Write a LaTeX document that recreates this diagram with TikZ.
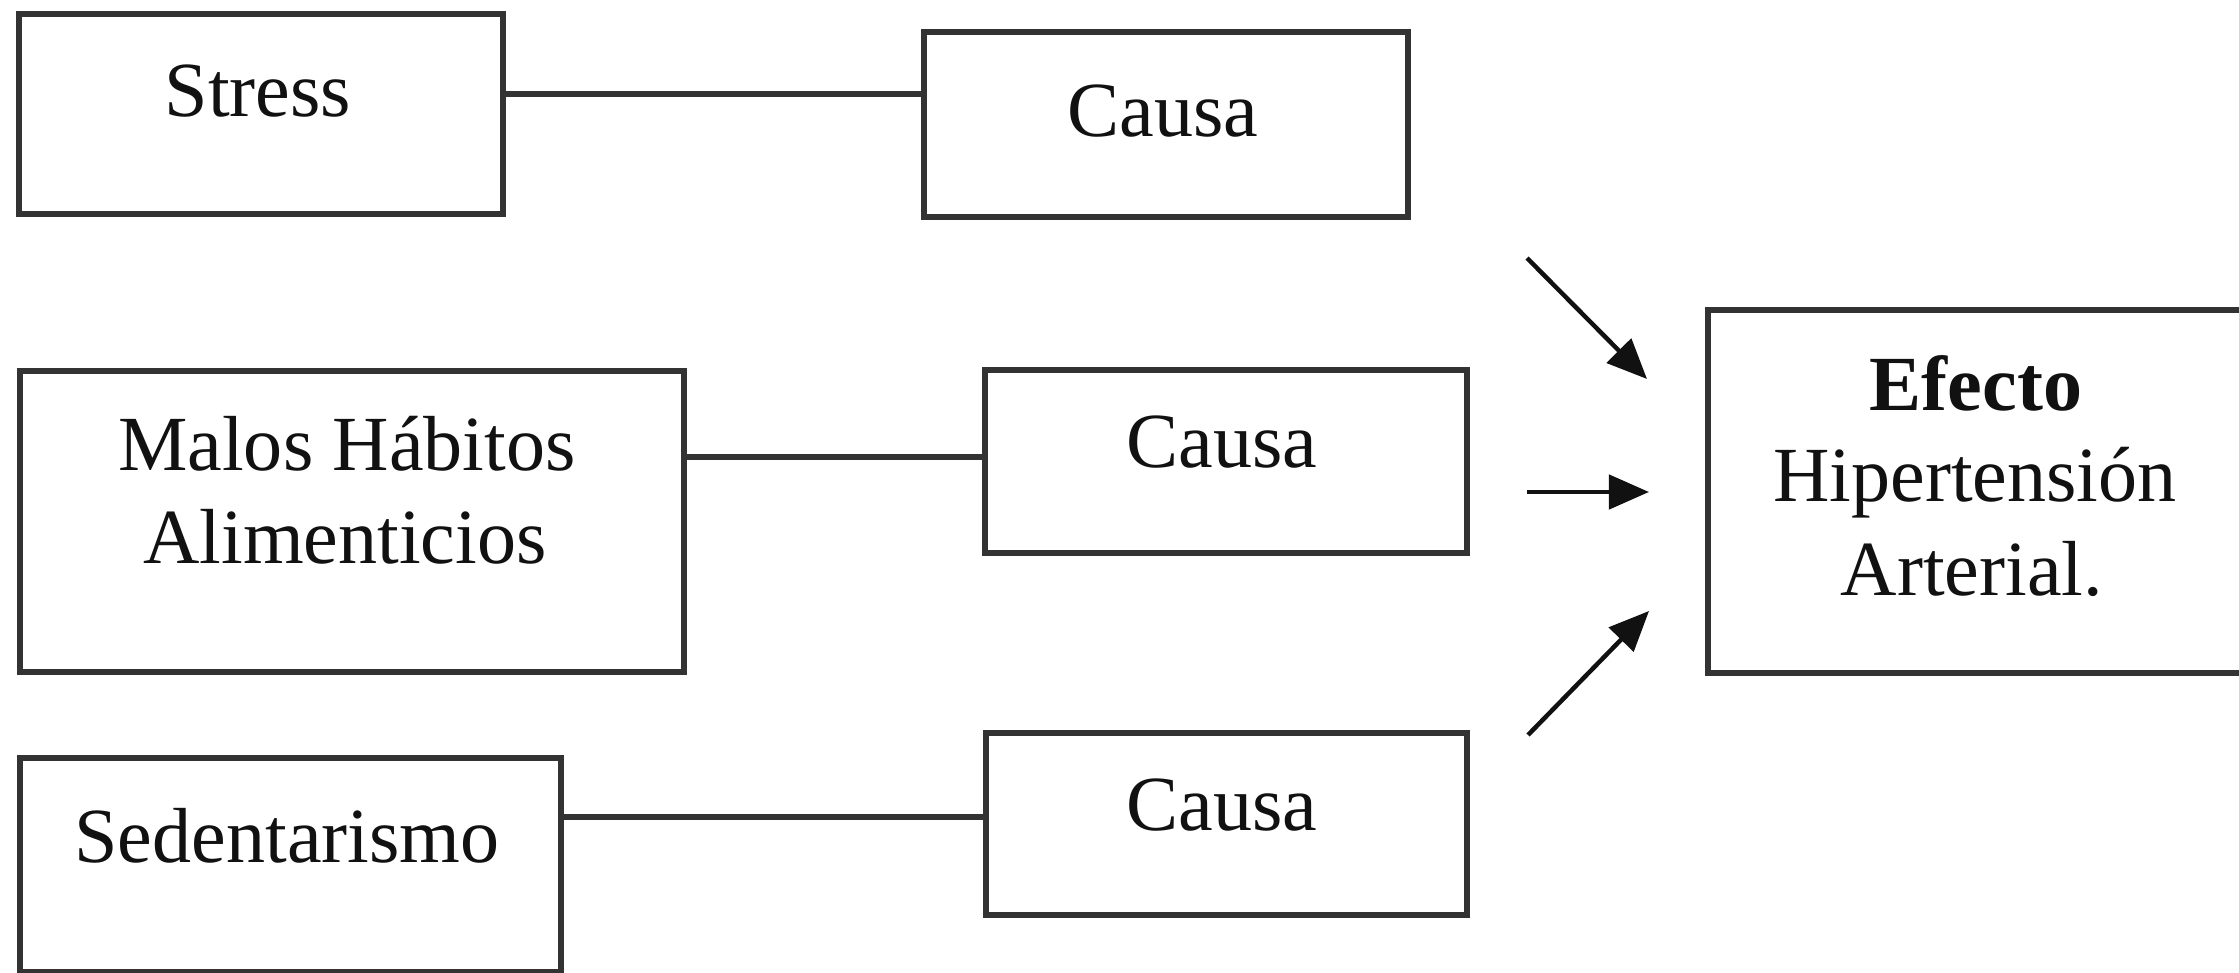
\documentclass[tikz,border=0pt]{standalone}
\usepackage{fontspec}
\setmainfont{Liberation Serif}
\usetikzlibrary{arrows.meta}
\definecolor{boxline}{HTML}{333333}
\definecolor{ink}{HTML}{111111}
\tikzset{
  box/.style={draw=boxline, line width=0.065cm, rectangle, inner sep=0pt, fill=none},
  txt/.style={anchor=base, inner sep=0pt, text=ink, font=\fontsize{22.2pt}{26.6pt}\selectfont},
  link/.style={draw=boxline, line width=0.06cm},
  arr/.style={draw=ink, line width=0.045cm, -{Triangle[length=0.40cm,width=0.34cm]}}
}
\begin{document}
\begin{tikzpicture}[x=0.01cm,y=-0.01cm]
\useasboundingbox (0,0) rectangle (2239,973);
\fill[white] (0,0) rectangle (2239,973);
\clip (0,0) rectangle (2239,973);
% boxes
\node[box, minimum width=4.84cm, minimum height=2.00cm] (stress) at (261,114) {};
\node[box, minimum width=4.84cm, minimum height=1.85cm] (c1) at (1166,124.5) {};
\node[box, minimum width=6.64cm, minimum height=3.01cm] (malos) at (352,521.5) {};
\node[box, minimum width=4.82cm, minimum height=1.83cm] (c2) at (1226,461.5) {};
\node[box, minimum width=5.41cm, minimum height=2.14cm] (sed) at (290.5,865) {};
\node[box, minimum width=4.81cm, minimum height=1.82cm] (c3) at (1226.5,824) {};
\node[box, minimum width=5.34cm, minimum height=3.63cm] (efecto) at (1975,491.5) {};
% texts
\node[txt] (stressT) at (258,117) {Stress};
\node[txt] (c1T) at (1163,137) {Causa};
\node[txt] (malosT1) at (347,470) {Malos Hábitos};
\node[txt] (malosT2) at (345,563) {Alimenticios};
\node[txt] (c2T) at (1222,467) {Causa};
\node[txt] (sedT) at (287,862) {Sedentarismo};
\node[txt] (c3T) at (1222,830) {Causa};
\node[txt] (efT1) at (1976,410) {\bfseries Efecto};
\node[txt] (efT2) at (1975,501) {Hipertensión};
\node[txt] (efT3) at (1972,595) {Arterial.};
% connectors
\draw[link] (stress.east |- 0,94) -- (c1.west |- 0,94);
\draw[link] (malos.east |- 0,457) -- (c2.west |- 0,457);
\draw[link] (sed.east |- 0,817) -- (c3.west |- 0,817);
% arrows
\coordinate (a1s) at (1527,258);
\coordinate (a1e) at (1647,379);
\coordinate (a2s) at (1527,492);
\coordinate (a2e) at (1649,492);
\coordinate (a3s) at (1528,735);
\coordinate (a3e) at (1649,611);
\draw[arr] (a1s) -- (a1e);
\draw[arr] (a2s) -- (a2e);
\draw[arr] (a3s) -- (a3e);
\end{tikzpicture}
\end{document}
